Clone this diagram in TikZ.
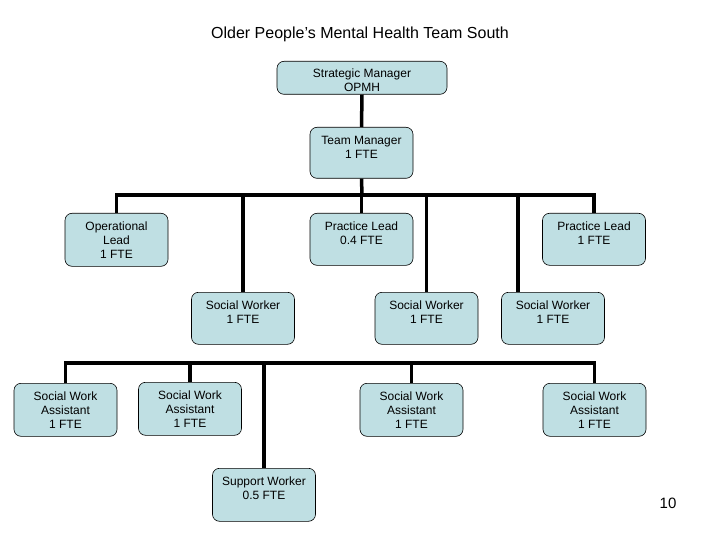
\documentclass[tikz,border=0pt]{standalone}
\usepackage{fontspec}
\setmainfont{Liberation Sans}
\usepackage{xcolor}
\usetikzlibrary{positioning}
\definecolor{postfill}{RGB}{191,223,227}

\begin{document}
\begin{tikzpicture}[x=1pt,y=-1pt,
    post/.style={draw=black, line width=0.6pt, fill=postfill, rounded corners=7pt,
      align=center, anchor=north, minimum width=103pt, inner xsep=2pt, inner ysep=0pt,
      text height=31.5pt, text depth=20.5pt, font=\fontsize{12}{14}\selectfont},
    post3/.style={post, text height=45.5pt, text depth=7.5pt},
    link/.style={line width=3.5pt}]
    \useasboundingbox (0,0) rectangle (720,540);
    \node (title) at (360,34) {\fontsize{16}{19}\selectfont Older People's Mental Health Team South};

    % top of the tree
    \node[post, minimum width=170pt, text height=30.5pt, text depth=2.5pt] (strat) at (362,61) {Strategic Manager\\OPMH};
    \node[post, text depth=19.5pt] (team) at (361.5,127) {Team Manager\\1 FTE};

    % leads
    \node[post3] (oplead) at (116.5,213) {Operational\\Lead\\1 FTE};
    \node[post] (plead04) at (361.5,213) {Practice Lead\\0.4 FTE};
    \node[post] (plead1) at (594,213) {Practice Lead\\1 FTE};

    % social workers
    \node[post] (sw1) at (243,292) {Social Worker\\1 FTE};
    \node[post] (sw2) at (426.5,292) {Social Worker\\1 FTE};
    \node[post] (sw3) at (553,292) {Social Worker\\1 FTE};

    % assistants
    \node[post3] (swa1) at (65.5,383) {Social Work\\Assistant\\1 FTE};
    \node[post3] (swa2) at (190,382) {Social Work\\Assistant\\1 FTE};
    \node[post3] (swa3) at (411.5,383) {Social Work\\Assistant\\1 FTE};
    \node[post3] (swa4) at (594.5,383) {Social Work\\Assistant\\1 FTE};
    \node[post, text depth=21.5pt] (support) at (264,468) {Support Worker\\0.5 FTE};

    \node (pageno) at (668,503) {\fontsize{15}{18}\selectfont 10};

    % connectors
    \coordinate (busA) at (362,195);
    \coordinate (busB) at (330,363);
    \coordinate (sw3drop) at (518,292);
    \draw[link] (strat.south) -- (team.north);
    \draw[link] (team.south) -- (busA);
    \draw[link] (oplead.north) -- (oplead.north |- busA) -- (plead1.north |- busA) -- (plead1.north);
    \foreach \n in {sw1,plead04,sw2}
      \draw[link] (\n.north) -- (\n.north |- busA);
    \draw[link] (sw3drop) -- (sw3drop |- busA);
    \draw[link] (swa1.north) -- (swa1.north |- busB) -- (swa4.north |- busB) -- (swa4.north);
    \foreach \n in {swa2,support,swa3}
      \draw[link] (\n.north) -- (\n.north |- busB);
\end{tikzpicture}
\end{document}
